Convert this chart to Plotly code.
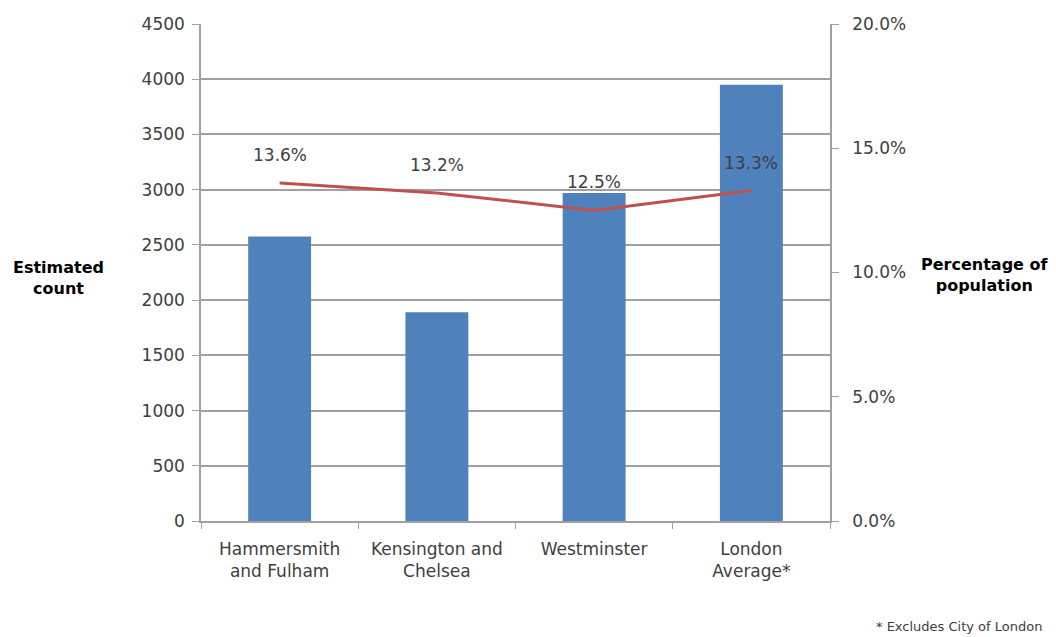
import plotly.graph_objects as go

categories = ["Hammersmith<br>and Fulham", "Kensington and<br>Chelsea", "Westminster", "London<br>Average*"]
counts = [2575, 1890, 2970, 3950]
percentages = [0.136, 0.132, 0.125, 0.133]
pct_labels = ["13.6%", "13.2%", "12.5%", "13.3%"]

FONT = "DejaVu Sans"
TXT = "#404040"
GRID = "#a0a0a0"

fig = go.Figure()
fig.add_trace(go.Bar(x=categories, y=counts, marker=dict(color="#4F81BD", line=dict(width=0)),
                     width=0.4, yaxis="y", showlegend=False))
fig.add_trace(go.Scatter(x=categories, y=percentages, mode="lines",
                         line=dict(color="#C0504D", width=3), yaxis="y2", showlegend=False))

for c, p, t in zip(categories, percentages, pct_labels):
    fig.add_annotation(x=c, y=p, yref="y2", text=t, showarrow=False, yshift=28,
                       font=dict(family=FONT, size=17, color=TXT))

fig.update_layout(
    width=1048, height=629,
    margin=dict(l=193, r=226, t=16, b=116, autoexpand=False),
    paper_bgcolor="white", plot_bgcolor="white",
    font=dict(family=FONT, size=17, color=TXT),
    xaxis=dict(showline=True, linecolor=GRID, linewidth=1.5, ticks="outside", tickson="boundaries",
               ticklen=6, tickcolor=GRID, tickfont=dict(size=17, color=TXT), automargin=False,
               ticklabelstandoff=12),
    yaxis=dict(range=[0, 4500], dtick=500, showgrid=True, gridcolor=GRID, gridwidth=1.5,
               showline=True, linecolor=GRID, linewidth=1.5, ticks="outside", ticklen=7,
               tickcolor=GRID, zeroline=False, tickfont=dict(size=17, color=TXT), automargin=False,
               ticklabelstandoff=4),
    yaxis2=dict(range=[0, 0.2], dtick=0.05, tickformat=".1%", overlaying="y", side="right",
                showgrid=False, showline=True, linecolor=GRID, linewidth=1.5, ticks="outside",
                ticklen=7, tickcolor=GRID, zeroline=False, tickfont=dict(size=17, color=TXT),
                automargin=False, ticklabelstandoff=10),
)

fig.add_annotation(x=0, y=(521 - 278) / 497, xref="paper", yref="paper", xanchor="center",
                   yanchor="middle", xshift=-143, text="<b>Estimated<br>count</b>",
                   showarrow=False, align="center", font=dict(family=FONT, size=16, color="#000"))
fig.add_annotation(x=1, y=(521 - 275) / 497, xref="paper", yref="paper", xanchor="center",
                   yanchor="middle", xshift=155, text="<b>Percentage of<br>population</b>",
                   showarrow=False, align="center", font=dict(family=FONT, size=16, color="#000"))
fig.add_annotation(x=1, y=0, xref="paper", yref="paper", xanchor="right", yanchor="middle",
                   xshift=214, yshift=-105, text="* Excludes City of London", showarrow=False,
                   font=dict(family=FONT, size=13, color=TXT))

fig.write_html("out.html")
